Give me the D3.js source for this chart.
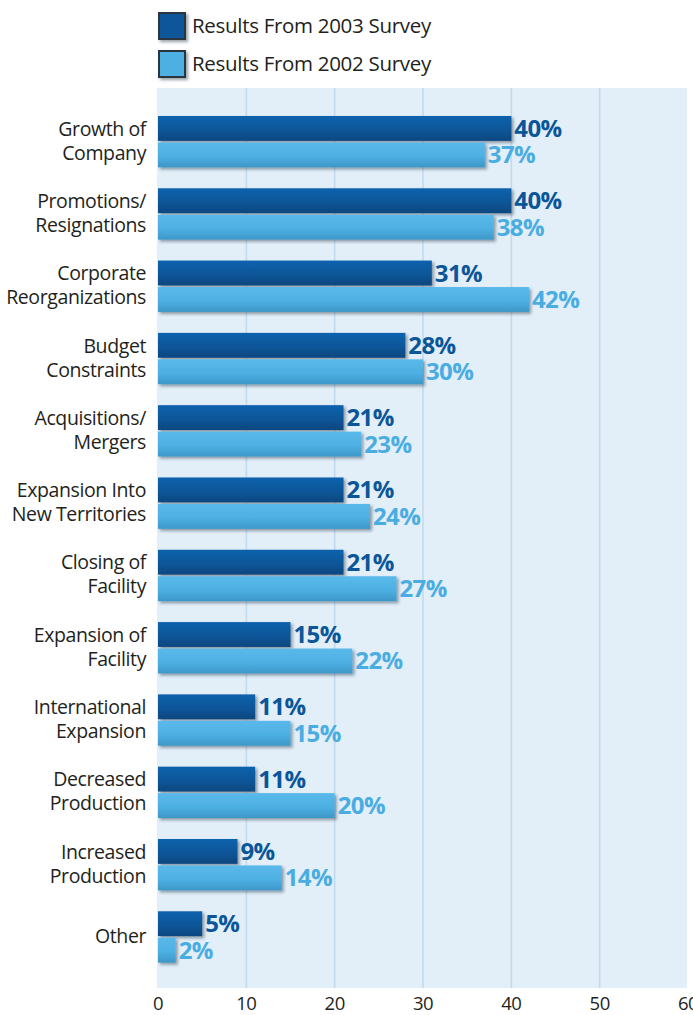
<!DOCTYPE html>
<html lang="en">
<head>
  <meta charset="UTF-8">
  <title>Survey Results Bar Chart</title>
  <script src="https://d3js.org/d3.v7.min.js"></script>
  <style>
    body {
      margin: 0;
      padding: 0;
      background: #ffffff;
      font-family: 'Open Sans', 'Noto Sans', sans-serif;
    }

    .cat-label {
      font-size: 19.5px;
      fill: #231f20;
      letter-spacing: -0.4px;
    }

    .tick-label {
      font-size: 18.5px;
      fill: #231f20;
      letter-spacing: -0.5px;
    }

    .value-label {
      font-size: 24px;
      font-weight: 700;
      letter-spacing: -0.6px;
    }

    .legend-text {
      font-size: 20.5px;
      fill: #231f20;
      letter-spacing: -0.3px;
    }
  </style>
</head>
<body>
  <div id="chart"></div>

  <script>
    // categories (top to bottom), label lines
    const categories = [
      ["Growth of", "Company"],
      ["Promotions/", "Resignations"],
      ["Corporate", "Reorganizations"],
      ["Budget", "Constraints"],
      ["Acquisitions/", "Mergers"],
      ["Expansion Into", "New Territories"],
      ["Closing of", "Facility"],
      ["Expansion of", "Facility"],
      ["International", "Expansion"],
      ["Decreased", "Production"],
      ["Increased", "Production"],
      ["Other"]
    ];
    const series = ["Results From 2003 Survey", "Results From 2002 Survey"];
    const values2003 = [40, 40, 31, 28, 21, 21, 21, 15, 11, 11, 9, 5];
    const values2002 = [37, 38, 42, 30, 23, 24, 27, 22, 15, 20, 14, 2];
    const xTicks = [0, 10, 20, 30, 40, 50, 60];

    const width = 693;
    const height = 1015;
    const colors = ["#0a5699", "#4eb0e3"];
    const labelColors = ["#0a5699", "#4aade2"];

    const svg = d3.select("#chart")
      .append("svg")
      .attr("width", width)
      .attr("height", height);

    const defs = svg.append("defs");

    const shadow = defs.append("filter")
      .attr("id", "shadow")
      .attr("x", "-10%").attr("y", "-20%")
      .attr("width", "130%").attr("height", "160%");
    shadow.append("feDropShadow")
      .attr("dx", 2).attr("dy", 2)
      .attr("stdDeviation", 1.4)
      .attr("flood-color", "#1a2a3a")
      .attr("flood-opacity", 0.45);

    // vertical shading on the bars
    const shades = [["#0d62ad", "#0a5699", "#07477f"], ["#5ab9ea", "#4eb0e3", "#3d97c8"]];
    shades.forEach((s, i) => {
      const g = defs.append("linearGradient")
        .attr("id", "grad" + i)
        .attr("x1", 0).attr("y1", 0).attr("x2", 0).attr("y2", 1);
      g.append("stop").attr("offset", "0%").attr("stop-color", s[0]);
      g.append("stop").attr("offset", "55%").attr("stop-color", s[1]);
      g.append("stop").attr("offset", "100%").attr("stop-color", s[2]);
    });

    const x = d3.scaleLinear().domain([0, 60]).range([158, 688]);

    const y = d3.scaleBand()
      .domain(d3.range(categories.length))
      .range([105.5, 973.1])
      .paddingInner(0.29)
      .paddingOuter(0.145);

    const ySub = d3.scaleBand()
      .domain([0, 1])
      .range([0, y.bandwidth()])
      .paddingInner(0.06);

    // plot background
    svg.append("rect")
      .attr("x", 157)
      .attr("y", 88)
      .attr("width", 530)
      .attr("height", 900)
      .attr("fill", "#e2eef8");

    // grid lines
    svg.append("g")
      .selectAll("line")
      .data(xTicks.filter(d => d > 0 && d < 60))
      .join("line")
      .attr("x1", d => x(d))
      .attr("x2", d => x(d))
      .attr("y1", 88)
      .attr("y2", 988)
      .attr("stroke", "#c3daee")
      .attr("stroke-width", 1.6);

    // x tick labels
    svg.append("g")
      .selectAll("text")
      .data(xTicks)
      .join("text")
      .attr("class", "tick-label")
      .attr("x", d => x(d))
      .attr("y", 1010)
      .attr("text-anchor", "middle")
      .text(d => d);

    // category labels, one text per line
    const catG = svg.append("g");
    const lh = 24;
    categories.forEach((lines, i) => {
      const cy = y(i) + y.bandwidth() / 2;
      lines.forEach((l, j) => {
        catG.append("text")
          .attr("class", "cat-label")
          .attr("text-anchor", "end")
          .attr("x", 146)
          .attr("y", cy - (lines.length - 1) * lh / 2 + j * lh + 6)
          .text(l);
      });
    });

    // bars
    const barData = [];
    categories.forEach((c, i) => {
      barData.push({ cat: i, s: 0, v: values2003[i] });
      barData.push({ cat: i, s: 1, v: values2002[i] });
    });

    svg.append("g")
      .selectAll("rect")
      .data(barData)
      .join("rect")
      .attr("x", x(0))
      .attr("y", d => y(d.cat) + ySub(d.s))
      .attr("width", d => x(d.v) - x(0))
      .attr("height", ySub.bandwidth())
      .attr("fill", d => `url(#grad${d.s})`)
      .attr("filter", "url(#shadow)");

    svg.append("g")
      .selectAll("text")
      .data(barData)
      .join("text")
      .attr("class", "value-label")
      .attr("x", d => x(d.v) + 3)
      .attr("y", d => y(d.cat) + ySub(d.s) + ySub.bandwidth() / 2 + 8.5)
      .attr("fill", d => labelColors[d.s])
      .text(d => d.v + "%");

    // legend
    const legend = svg.append("g");
    series.forEach((s, i) => {
      const ly = 13 + i * 38;
      legend.append("rect")
        .attr("x", 159)
        .attr("y", ly)
        .attr("width", 26)
        .attr("height", 26)
        .attr("fill", colors[i])
        .attr("stroke", "#2b3540")
        .attr("stroke-width", 2)
        .attr("filter", "url(#shadow)");
      legend.append("text")
        .attr("class", "legend-text")
        .attr("x", 192)
        .attr("y", ly + 20)
        .text(s);
    });
  </script>
</body>
</html>
